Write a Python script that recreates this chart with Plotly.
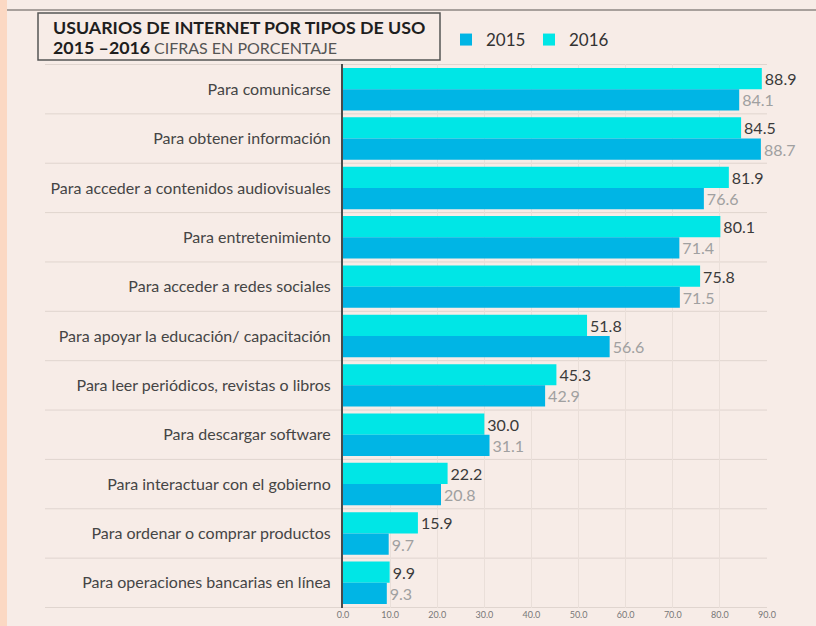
import plotly.graph_objects as go

categories = [
    "Para comunicarse",
    "Para obtener información",
    "Para acceder a contenidos audiovisuales",
    "Para entretenimiento",
    "Para acceder a redes sociales",
    "Para apoyar la educación/ capacitación",
    "Para leer periódicos, revistas o libros",
    "Para descargar software",
    "Para interactuar con el gobierno",
    "Para ordenar o comprar productos",
    "Para operaciones bancarias en línea",
]
values_2016 = [88.9, 84.5, 81.9, 80.1, 75.8, 51.8, 45.3, 30.0, 22.2, 15.9, 9.9]
values_2015 = [84.1, 88.7, 76.6, 71.4, 71.5, 56.6, 42.9, 31.1, 20.8, 9.7, 9.3]
tick_values = [0, 10, 20, 30, 40, 50, 60, 70, 80, 90]

BG = "#f7ece7"
C2016 = "#00e6e6"
C2015 = "#00b5e5"

W, H = 816, 626
L, R, T, B = 343, 49, 64, 18
pw = W - L - R
ph = H - T - B

def px_x(x):
    return (x - L) / pw

def px_y(y):
    return (H - B - y) / ph

fig = go.Figure()
fig.add_trace(go.Bar(
    y=categories, x=values_2016, name="2016", orientation="h",
    marker=dict(color=C2016, line=dict(width=0)),
    text=[f"{v:.1f}" for v in values_2016], textposition="outside",
    textfont=dict(family="Lato", size=16, color="#3a3a3a"),
    cliponaxis=False, legendrank=2,
))
fig.add_trace(go.Bar(
    y=categories, x=values_2015, name="2015", orientation="h",
    marker=dict(color=C2015, line=dict(width=0)),
    text=[f"{v:.1f}" for v in values_2015], textposition="outside",
    textfont=dict(family="Lato", size=16, color="#a0a0a0"),
    cliponaxis=False, legendrank=1,
))

shapes = []
# left peach strip and top line
shapes.append(dict(type="rect", xref="paper", yref="paper",
                   x0=px_x(0), x1=px_x(7), y0=px_y(626), y1=px_y(0),
                   fillcolor="#fbd8c3", line=dict(width=0), layer="below"))
shapes.append(dict(type="line", xref="paper", yref="paper",
                   x0=px_x(7), x1=px_x(816), y0=px_y(10), y1=px_y(10),
                   line=dict(color="#a8a09c", width=2)))
# title box
shapes.append(dict(type="rect", xref="paper", yref="paper",
                   x0=px_x(38), x1=px_x(440), y0=px_y(60), y1=px_y(13),
                   line=dict(color="#555555", width=1.5), fillcolor="rgba(0,0,0,0)"))
# row separators
for i in range(len(categories) + 1):
    shapes.append(dict(type="line", xref="paper", yref="y",
                       x0=px_x(45), x1=px_x(767), y0=i - 0.5, y1=i - 0.5,
                       line=dict(color="#e0d5cf", width=1), layer="below"))

fig.update_layout(
    width=W, height=H,
    margin=dict(l=L, r=R, t=T, b=B, autoexpand=False),
    paper_bgcolor=BG, plot_bgcolor=BG,
    barmode="group", bargap=0.14, bargroupgap=0,
    font=dict(family="Lato", color="#444444"),
    showlegend=True,
    legend=dict(orientation="h", x=px_x(446), y=px_y(40), yanchor="middle", xanchor="left",
                bgcolor="rgba(0,0,0,0)", font=dict(family="Lato", size=17, color="#333333"),
                itemwidth=30, entrywidth=38, traceorder="normal"),
    shapes=shapes,
    annotations=[
        dict(xref="paper", yref="paper", x=px_x(51), y=px_y(27), xanchor="left", yanchor="middle",
             text="<b>USUARIOS DE INTERNET POR TIPOS DE USO</b>", showarrow=False,
             font=dict(family="Lato", size=17.8, color="#1e1e1e")),
        dict(xref="paper", yref="paper", x=px_x(51), y=px_y(47), xanchor="left", yanchor="middle",
             text="<b>2015 –2016</b>", showarrow=False,
             font=dict(family="Lato", size=17.8, color="#1e1e1e")),
        dict(xref="paper", yref="paper", x=px_x(152), y=px_y(47), xanchor="left", yanchor="middle",
             text="CIFRAS EN PORCENTAJE", showarrow=False,
             font=dict(family="Lato", size=16, color="#555555")),
    ],
    xaxis=dict(range=[0, 90], tickvals=tick_values, tickformat=".1f",
               showgrid=True, gridcolor="#eadfd9", gridwidth=1, zeroline=False,
               showline=False, ticks="", tickfont=dict(family="Lato", size=9, color="#777777"),
               fixedrange=True),
    yaxis=dict(type="category", autorange="reversed", showgrid=False,
               showline=True, linecolor="#4a4a4a", linewidth=2, ticks="",
               ticklabelstandoff=7,
               tickfont=dict(family="Lato", size=16, color="#454545")),
)

fig.write_html("out.html", config={"displayModeBar": False},
               post_script="document.body.style.margin='0';document.body.style.background='" + BG + "';")
